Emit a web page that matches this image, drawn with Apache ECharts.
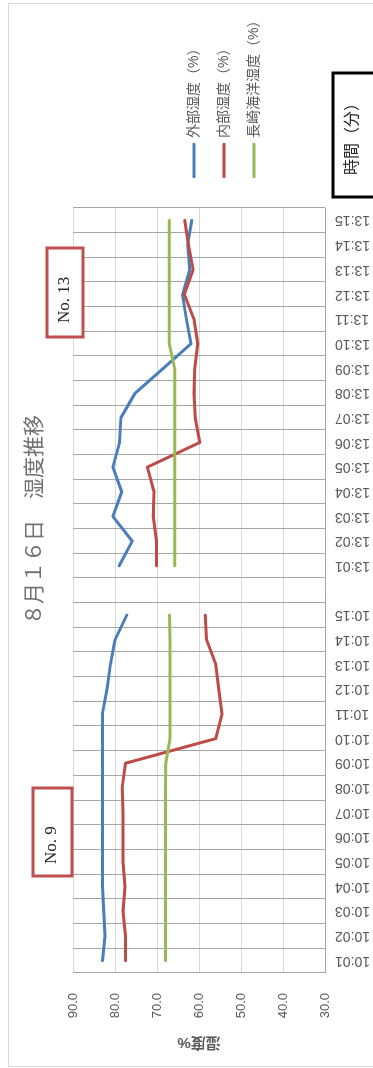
<!DOCTYPE html>
<html>
<head>
<meta charset="utf-8">
<script src="https://cdn.jsdelivr.net/npm/echarts@6/dist/echarts.min.js"></script>
<style>
  html, body { margin: 0; padding: 0; background: #fff; overflow: hidden; }
  body { width: 373px; height: 1068px; position: relative; }
  /* chart is laid out landscape and turned a quarter turn counter-clockwise */
  #chart {
    position: absolute; left: 0; top: 0;
    width: 1068px; height: 373px;
    transform-origin: 0 0;
    transform: translateY(1068px) rotate(-90deg);
  }
</style>
</head>
<body>
<div id="chart"></div>
<script>
// time of day (minutes); the empty slot separates the morning and afternoon runs
const categories = [
  '10:01','10:02','10:03','10:04','10:05','10:06','10:07','10:08','10:09','10:10',
  '10:11','10:12','10:13','10:14','10:15','',
  '13:01','13:02','13:03','13:04','13:05','13:06','13:07','13:08','13:09','13:10',
  '13:11','13:12','13:13','13:14','13:15'
];
const outsideHumidity = [
  83.0, 82.4, 82.7, 83.0, 83.0, 83.0, 83.0, 83.0, 83.0, 83.0,
  83.0, 81.9, 81.1, 80.0, 77.2, null,
  79.0, 75.9, 80.5, 78.4, 80.5, 78.9, 78.6, 75.2, 68.5, 61.9,
  63.0, 63.9, 62.2, 62.7, 61.7
];
const insideHumidity = [
  77.5, 77.5, 78.1, 77.6, 78.1, 78.1, 78.1, 78.3, 77.5, 56.0,
  54.5, 55.3, 56.0, 58.2, 58.5, null,
  70.1, 70.1, 70.9, 70.7, 72.3, 59.8, 60.9, 61.2, 61.0, 60.3,
  61.2, 63.5, 61.4, 62.5, 63.4
];
const nagasakiHumidity = [
  68.0, 68.0, 68.0, 68.0, 68.0, 68.0, 68.0, 68.0, 67.9, 66.9,
  66.9, 66.9, 66.9, 66.9, 67.0, null,
  65.8, 65.8, 65.8, 65.8, 65.8, 65.8, 65.8, 65.8, 65.8, 67.1,
  67.1, 67.1, 67.1, 67.1, 67.1
];
const seriesNames = ['外部湿度（%）', '内部湿度（%）', '長崎海洋湿度（%）'];
const seriesColors = ['#4A7EBB', '#BE4B48', '#98B954'];
const valueTicks = { min: 30, max: 90, interval: 10 };

const SANS = "'Liberation Sans', 'Noto Sans CJK JP', sans-serif";
const SERIF = "'Liberation Serif', 'DejaVu Serif', 'Noto Sans CJK JP', serif";

const chart = echarts.init(document.getElementById('chart'), null, { renderer: 'canvas' });

function lineSeries(name, data, color) {
  return {
    name, type: 'line', data,
    symbol: 'none', connectNulls: false,
    lineStyle: { color, width: 3, cap: 'round', join: 'round' },
    itemStyle: { color },
    z: 3
  };
}

chart.setOption({
  animation: false,
  backgroundColor: '#ffffff',
  title: {
    text: '８月１６日　湿度推移',
    left: 443, top: 25, padding: 0,
    textStyle: { fontFamily: SERIF, fontSize: 21, fontWeight: 'normal', color: '#707070' }
  },
  legend: {
    orient: 'vertical',
    left: 885, top: 182,
    icon: 'roundRect',
    itemWidth: 35, itemHeight: 3, itemGap: 16,
    textStyle: { fontFamily: SANS, fontSize: 14, color: '#595959', lineHeight: 14 },
    data: seriesNames
  },
  grid: { left: 95, right: 208, top: 73, bottom: 46, containLabel: false },
  xAxis: {
    type: 'category',
    data: categories,
    boundaryGap: true,
    axisLine: { show: true, lineStyle: { color: '#a6a6a6', width: 1 } },
    axisTick: { show: false },
    axisLabel: {
      interval: 0, rotate: 90, margin: 10,
      fontFamily: SANS, fontSize: 14, color: '#595959'
    },
    splitLine: { show: true, interval: 0, lineStyle: { color: '#a6a6a6', width: 1 } }
  },
  yAxis: {
    type: 'value',
    min: valueTicks.min, max: valueTicks.max, interval: valueTicks.interval,
    name: '湿度%',
    nameLocation: 'middle', nameGap: 62, nameRotate: 90,
    nameTextStyle: { fontFamily: SANS, fontSize: 15, fontWeight: 'bold', color: '#595959' },
    axisLine: { show: false },
    axisTick: { show: false },
    axisLabel: {
      margin: 20, fontFamily: SANS, fontSize: 13, color: '#595959',
      formatter: v => v.toFixed(1)
    },
    splitLine: { show: true, lineStyle: { color: '#d9d9d9', width: 1 } }
  },
  series: [
    lineSeries(seriesNames[0], outsideHumidity, seriesColors[0]),
    lineSeries(seriesNames[1], insideHumidity, seriesColors[1]),
    lineSeries(seriesNames[2], nagasakiHumidity, seriesColors[2])
  ],
  graphic: [
    // chart frame
    {
      type: 'rect', z: -1, silent: true,
      shape: { x: 1.5, y: 8.5, width: 1063, height: 420 },
      style: { fill: 'none', stroke: '#d9d9d9', lineWidth: 1 }
    },
    // time-axis caption box
    {
      type: 'rect', z: 10,
      shape: { x: 871, y: 333, width: 124, height: 70 },
      style: { fill: '#ffffff', stroke: '#000000', lineWidth: 3 }
    },
    {
      type: 'text', z: 11,
      x: 933, y: 353,
      style: {
        text: '時間（分）', align: 'center', verticalAlign: 'middle',
        fontFamily: SANS, fontSize: 16, fill: '#262626'
      }
    },
    // run markers
    {
      type: 'rect', z: 10,
      shape: { x: 731, y: 47, width: 89, height: 36 },
      style: { fill: '#ffffff', stroke: '#C0504D', lineWidth: 3 }
    },
    {
      type: 'text', z: 11,
      x: 745, y: 65,
      style: {
        text: 'No. 13', align: 'left', verticalAlign: 'middle',
        fontFamily: SERIF, fontSize: 17, fill: '#262626'
      }
    },
    {
      type: 'rect', z: 10,
      shape: { x: 192, y: 33, width: 88, height: 39 },
      style: { fill: '#ffffff', stroke: '#C0504D', lineWidth: 3 }
    },
    {
      type: 'text', z: 11,
      x: 204, y: 52,
      style: {
        text: 'No. 9', align: 'left', verticalAlign: 'middle',
        fontFamily: SERIF, fontSize: 17, fill: '#262626'
      }
    }
  ]
});
</script>
</body>
</html>
